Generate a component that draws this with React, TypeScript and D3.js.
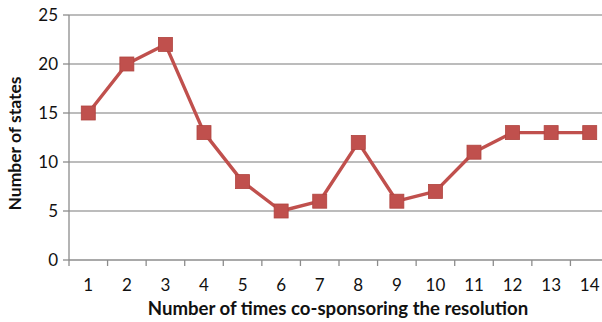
import React, { useRef, useEffect } from "react";
import * as d3 from "d3";

const categories = ["1", "2", "3", "4", "5", "6", "7", "8", "9", "10", "11", "12", "13", "14"];
const states = [15, 20, 22, 13, 8, 5, 6, 12, 6, 7, 11, 13, 13, 13];
const yTicks = [0, 5, 10, 15, 20, 25];

const width = 602;
const height = 322;
const FONT = "Lato, 'Open Sans', sans-serif";

const App: React.FC = () => {
    const svgRef = useRef<SVGSVGElement | null>(null);

    useEffect(() => {
        if (!svgRef.current) return;
        const svg = d3.select(svgRef.current);
        svg.selectAll("*").remove();

        const left = 69;
        const right = 609;
        const top = 15;
        const bottom = 260;

        const x = d3.scaleBand<string>().domain(categories).range([left, right]);
        const y = d3.scaleLinear().domain([0, 25]).range([bottom, top]);

        // gridlines
        svg.append("g")
            .selectAll("line")
            .data(yTicks.filter(t => t > 0))
            .enter()
            .append("line")
            .attr("x1", left)
            .attr("x2", width)
            .attr("y1", d => y(d))
            .attr("y2", d => y(d))
            .attr("stroke", "#a6a6a6")
            .attr("stroke-width", 1.3);

        // axes
        const axisColor = "#8c8c8c";
        svg.append("line")
            .attr("x1", left).attr("x2", left)
            .attr("y1", top).attr("y2", bottom)
            .attr("stroke", axisColor).attr("stroke-width", 1.3);
        svg.append("line")
            .attr("x1", left).attr("x2", width)
            .attr("y1", bottom).attr("y2", bottom)
            .attr("stroke", axisColor).attr("stroke-width", 1.3);

        // y ticks
        svg.append("g")
            .selectAll("line")
            .data(yTicks)
            .enter()
            .append("line")
            .attr("x1", left - 6).attr("x2", left)
            .attr("y1", d => y(d)).attr("y2", d => y(d))
            .attr("stroke", axisColor).attr("stroke-width", 1.3);

        svg.append("g")
            .selectAll("text")
            .data(yTicks)
            .enter()
            .append("text")
            .attr("x", left - 11)
            .attr("y", d => y(d) + 6)
            .attr("text-anchor", "end")
            .attr("font-family", FONT)
            .attr("font-size", 17)
            .attr("fill", "#111")
            .text(d => d);

        // x ticks (band boundaries)
        const bounds = categories.map(c => x(c) as number).concat([right]);
        svg.append("g")
            .selectAll("line")
            .data(bounds)
            .enter()
            .append("line")
            .attr("x1", d => d).attr("x2", d => d)
            .attr("y1", bottom).attr("y2", bottom + 6)
            .attr("stroke", axisColor).attr("stroke-width", 1.3);

        svg.append("g")
            .selectAll("text")
            .data(categories)
            .enter()
            .append("text")
            .attr("x", d => (x(d) as number) + x.bandwidth() / 2)
            .attr("y", 291)
            .attr("text-anchor", "middle")
            .attr("font-family", FONT)
            .attr("font-size", 17)
            .attr("fill", "#111")
            .text(d => d);

        // series
        const cx = (i: number) => (x(categories[i]) as number) + x.bandwidth() / 2;
        const line = d3.line<number>()
            .x((_, i) => cx(i))
            .y(d => y(d));

        svg.append("path")
            .datum(states)
            .attr("d", line)
            .attr("fill", "none")
            .attr("stroke", "#c0504d")
            .attr("stroke-width", 3.4)
            .attr("stroke-linejoin", "round");

        const m = 14;
        svg.append("g")
            .selectAll("rect")
            .data(states)
            .enter()
            .append("rect")
            .attr("x", (_, i) => cx(i) - m / 2)
            .attr("y", d => y(d) - m / 2)
            .attr("width", m)
            .attr("height", m)
            .attr("fill", "#c0504d")
            .attr("stroke", "#b0443f")
            .attr("stroke-width", 0.8);

        // axis titles
        svg.append("text")
            .attr("x", 338)
            .attr("y", 315)
            .attr("text-anchor", "middle")
            .attr("font-family", FONT)
            .attr("font-weight", "bold")
            .attr("font-size", 18.6)
            .attr("fill", "#111")
            .text("Number of times co-sponsoring the resolution");

        svg.append("text")
            .attr("transform", `translate(21, ${(top + bottom) / 2 + 6}) rotate(-90)`)
            .attr("text-anchor", "middle")
            .attr("font-family", FONT)
            .attr("font-weight", "bold")
            .attr("font-size", 17.5)
            .attr("fill", "#111")
            .text("Number of states");
    }, []);

    return (
        <svg
            ref={svgRef}
            width={width}
            height={height}
            style={{ position: "absolute", left: 0, top: 0, background: "#fff" }}
        />
    );
};

export default App;
